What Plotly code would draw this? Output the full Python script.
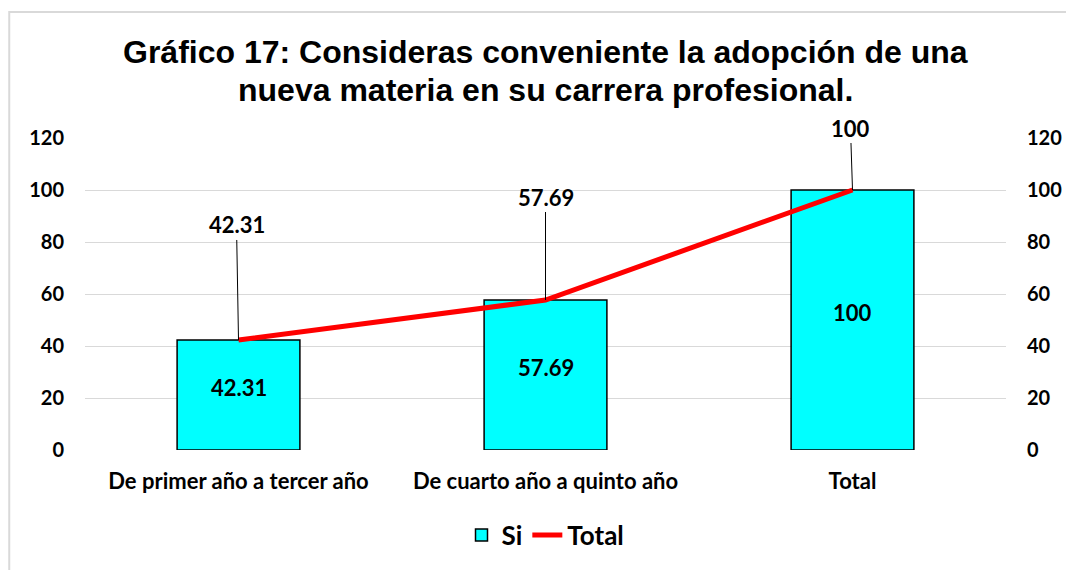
import plotly.graph_objects as go

categories = ["De primer año a tercer año", "De cuarto año a quinto año", "Total"]
si_values = [42.31, 57.69, 100]
total_values = [42.31, 57.69, 100]
tick_vals = [0, 20, 40, 60, 80, 100, 120]
title_lines = ["Gráfico 17: Consideras conveniente la adopción de una",
               "nueva materia en su carrera profesional."]

# page body has an 8px margin, so figure is offset by (8, 8)
W, H = 1066, 562
ml, mt, pw, ph = 77, 130, 924, 312
mr, mb = W - ml - pw, H - mt - ph

FAM = "Lato, 'Open Sans', sans-serif"
label_font = dict(family=FAM, size=22, color="black", weight="bold")
ytick_font = dict(family=FAM, size=20, color="black", weight="bold")
xtick_font = dict(family=FAM, size=22, color="black", weight="bold")
title_font = dict(family="'Liberation Sans', Arial, sans-serif", size=32, color="black", weight="bold")

fig = go.Figure()
fig.add_trace(go.Bar(
    x=categories, y=si_values, name="Si",
    marker=dict(color="#00FFFF", line=dict(color="black", width=1.5)),
    width=0.4,
))
fig.add_trace(go.Scatter(
    x=categories, y=total_values, name="Total", mode="lines",
    line=dict(color="#FF0000", width=5), yaxis="y2",
))

# labels inside the bars
for c, v in zip(categories, si_values):
    fig.add_annotation(x=c, y=v / 2, xref="x", yref="y", text=f"<b>{v:g}</b>",
                       showarrow=False, yshift=8, font=label_font)

# labels of the Total line with leader lines
offsets = [(-2, -115), (0, -103), (-2, -62)]
for c, v, (ax, ay) in zip(categories, total_values, offsets):
    fig.add_annotation(
        x=c, y=v, xref="x", yref="y2", text=f"<b>{v:g}</b>",
        showarrow=True, arrowhead=0, arrowwidth=1, arrowcolor="black",
        ax=ax, ay=ay, standoff=0, font=label_font,
    )

# title (two lines)
for line, ypx in zip(title_lines, [44, 82]):
    fig.add_annotation(x=0.5, y=(mt + ph - ypx) / ph, xref="paper", yref="paper",
                       text=f"<b>{line}</b>", showarrow=False, xanchor="center",
                       yanchor="middle", font=title_font)

# chart area border
fig.add_shape(type="rect", xref="paper", yref="paper",
              x0=(1 - ml) / pw, x1=(W + 5 - ml) / pw,
              y0=-(mb + 5) / ph, y1=(ph + mt - 4) / ph,
              line=dict(color="#d9d9d9", width=2), fillcolor="rgba(0,0,0,0)",
              layer="below")

fig.update_layout(
    width=W, height=H,
    margin=dict(l=ml, r=mr, t=mt, b=mb),
    paper_bgcolor="white", plot_bgcolor="white",
    xaxis=dict(showgrid=False, showline=False, ticks="", tickfont=xtick_font,
               ticklabelstandoff=16),
    yaxis=dict(range=[0, 120], tickvals=tick_vals, showgrid=True, gridcolor="#d9d9d9",
               gridwidth=1, zeroline=False, showline=False, ticks="", tickfont=ytick_font,
               ticklabelstandoff=20),
    yaxis2=dict(range=[0, 120], tickvals=tick_vals, overlaying="y", side="right",
                showgrid=False, zeroline=False, showline=False, ticks="", tickfont=ytick_font,
                ticklabelstandoff=20),
    showlegend=True,
    legend=dict(orientation="h", x=0.5, xanchor="center", y=-85 / ph,
                yanchor="middle", font=dict(family=FAM, size=26, color="black", weight="bold")),
    bargap=0.6,
)

fig.write_html("out.html")
